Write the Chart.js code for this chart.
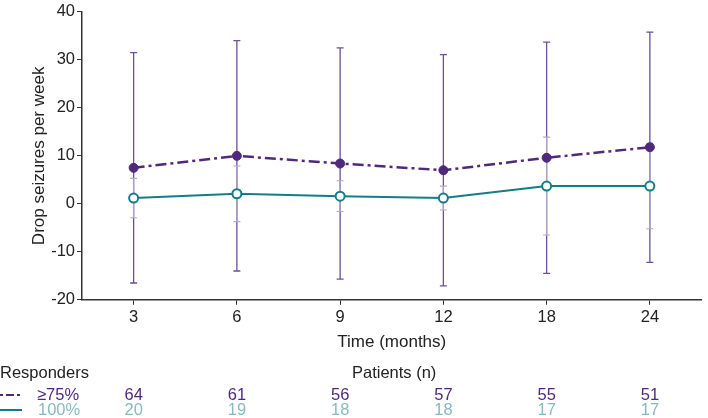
<!DOCTYPE html>
<html>
<head>
<meta charset="utf-8">
<script src="https://cdn.jsdelivr.net/npm/chart.js@4.4.1/dist/chart.umd.min.js"></script>
<style>
  html, body { margin: 0; padding: 0; background: #fff; }
  #wrap { width: 708px; height: 418px; }
</style>
</head>
<body>
<div id="wrap"><canvas id="seizuresChart" width="708" height="418"></canvas></div>
<script>
// Données
var months = ['3', '6', '9', '12', '18', '24'];
var resp75Mean = [7.5, 10.0, 8.4, 7.0, 9.6, 11.8];
var resp75Sd = [24.0, 24.0, 24.1, 24.1, 24.1, 24.0];
var resp100Mean = [1.2, 2.1, 1.6, 1.2, 3.7, 3.7];
var resp100Sd = [4.1, 5.8, 3.2, 2.5, 10.2, 8.9];
var resp75N = [64, 61, 56, 57, 55, 51];
var resp100N = [20, 19, 18, 18, 17, 17];
var yTicks = [-20, -10, 0, 10, 20, 30, 40];

var purple = '#4f2a7c';
var purpleBar = '#6b4f9b';
var teal = '#147d86';
var tealBar = '#b3a9c9';
var tealText = '#86b9c3';
var font = '"Liberation Sans", Arial, sans-serif';

// Barres d'erreur dessinées avec les échelles du graphique
var errorBars = {
    id: 'errorBars',
    beforeDatasetsDraw: function (chart) {
        var ctx = chart.ctx;
        var x = chart.scales.x, y = chart.scales.y;
        var sets = [
            { mean: resp75Mean, sd: resp75Sd, color: purpleBar, width: 1.3 },
            { mean: resp100Mean, sd: resp100Sd, color: tealBar, width: 1.1 }
        ];
        ctx.save();
        sets.forEach(function (s) {
            ctx.strokeStyle = s.color;
            ctx.lineWidth = s.width;
            s.mean.forEach(function (m, i) {
                var px = x.getPixelForValue(i);
                var top = y.getPixelForValue(m + s.sd[i]);
                var bot = y.getPixelForValue(m - s.sd[i]);
                ctx.beginPath();
                ctx.moveTo(px, top); ctx.lineTo(px, bot);
                ctx.moveTo(px - 3.5, top); ctx.lineTo(px + 3.5, top);
                ctx.moveTo(px - 3.5, bot); ctx.lineTo(px + 3.5, bot);
                ctx.stroke();
            });
        });
        ctx.restore();
    }
};

// Tableau des patients sous l'axe
var patientTable = {
    id: 'patientTable',
    afterDraw: function (chart) {
        var ctx = chart.ctx;
        var x = chart.scales.x;
        ctx.save();
        ctx.font = '16.5px ' + font;
        ctx.textBaseline = 'middle';
        ctx.fillStyle = '#222';
        ctx.textAlign = 'left';
        ctx.fillText('Responders', 0, 373);
        ctx.fillText('Patients (n)', 352, 373);

        // échantillons de ligne
        ctx.lineWidth = 2;
        ctx.strokeStyle = purple;
        ctx.setLineDash([3, 3, 8, 3]);
        ctx.beginPath(); ctx.moveTo(0, 395); ctx.lineTo(23, 395); ctx.stroke();
        ctx.setLineDash([]);
        ctx.strokeStyle = teal;
        ctx.beginPath(); ctx.moveTo(0, 410); ctx.lineTo(22, 410); ctx.stroke();

        ctx.fillStyle = purple;
        ctx.fillText('\u226575%', 37, 395);
        ctx.fillStyle = tealText;
        ctx.fillText('100%', 38, 410);

        ctx.textAlign = 'center';
        months.forEach(function (m, i) {
            var px = x.getPixelForValue(i);
            ctx.fillStyle = purple;
            ctx.fillText(String(resp75N[i]), px, 395);
            ctx.fillStyle = tealText;
            ctx.fillText(String(resp100N[i]), px, 410);
        });
        ctx.restore();
    }
};

var ctxSeizures = document.getElementById('seizuresChart').getContext('2d');
var seizuresChart = new Chart(ctxSeizures, {
    type: 'line',
    data: {
        labels: months,
        datasets: [{
            label: '\u226575%',
            data: resp75Mean,
            borderColor: purple,
            backgroundColor: purple,
            borderWidth: 2.5,
            borderDash: [11, 4, 3, 4],
            pointRadius: 4.5,
            pointBackgroundColor: purple,
            pointBorderColor: purple,
            pointBorderWidth: 1,
            tension: 0
        }, {
            label: '100%',
            data: resp100Mean,
            borderColor: teal,
            backgroundColor: '#fff',
            borderWidth: 2,
            pointRadius: 4.5,
            pointBackgroundColor: '#fff',
            pointBorderColor: teal,
            pointBorderWidth: 2,
            tension: 0
        }]
    },
    options: {
        responsive: false,
        animation: false,
        layout: { padding: { top: 1, right: 2, bottom: 61, left: 29 } },
        plugins: {
            legend: { display: false },
            tooltip: { enabled: false }
        },
        scales: {
            x: {
                offset: true,
                grid: { display: true, drawOnChartArea: false, tickLength: 5, color: '#333' },
                border: { display: true, color: '#333', width: 1.5 },
                ticks: { color: '#222', font: { family: font, size: 16.5 }, padding: 3 },
                title: { display: true, text: 'Time (months)', color: '#222', font: { family: font, size: 17 }, padding: { top: 2 } }
            },
            y: {
                min: -20,
                max: 40,
                afterBuildTicks: function (scale) {
                    scale.ticks = yTicks.map(function (v) { return { value: v }; });
                },
                afterFit: function (scale) { scale.width = 53; },
                grid: { display: true, drawOnChartArea: false, tickLength: 5, color: '#333' },
                border: { display: true, color: '#333', width: 1.5 },
                ticks: { color: '#222', font: { family: font, size: 16.5 }, padding: 2 },
                title: { display: true, text: 'Drop seizures per week', color: '#222', font: { family: font, size: 17 }, padding: { top: 0, bottom: 0 } }
            }
        }
    },
    plugins: [errorBars, patientTable]
});
</script>
</body>
</html>
